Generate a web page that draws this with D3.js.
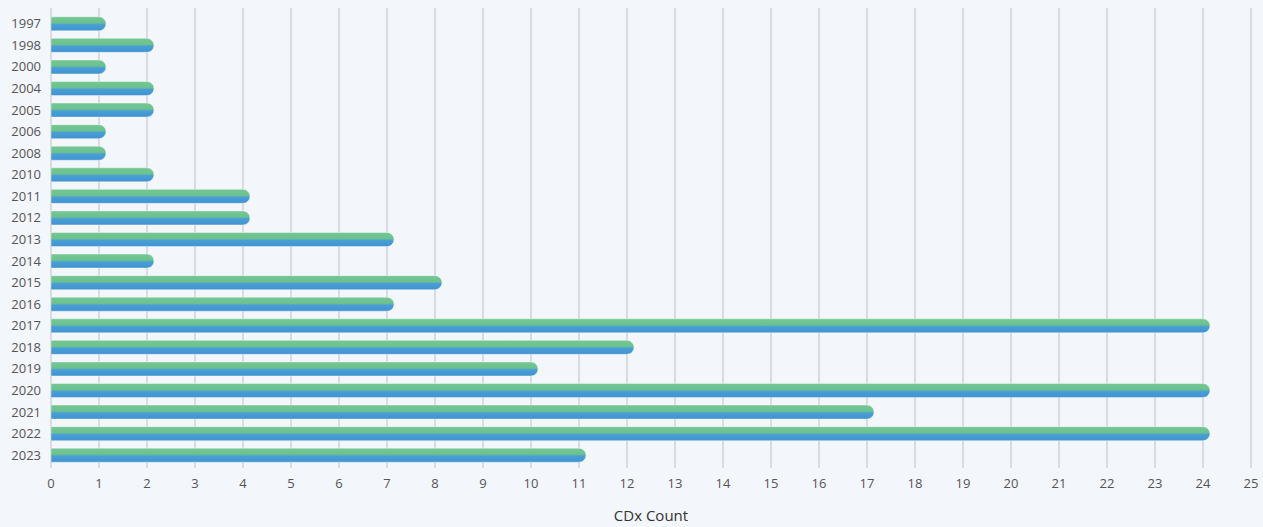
<!DOCTYPE html>
<html>
<head>
<meta charset="utf-8">
<script src="https://cdn.jsdelivr.net/npm/d3@7"></script>
<style>
  body { margin: 0; background: #f3f6fb; }
  svg { display: block; }
</style>
</head>
<body>
<div id="chart"></div>
<script>
// Data
const years = ["1997", "1998", "2000", "2004", "2005", "2006", "2008", "2010", "2011", "2012",
  "2013", "2014", "2015", "2016", "2017", "2018", "2019", "2020", "2021", "2022", "2023"];
const counts = [1, 2, 1, 2, 2, 1, 1, 2, 4, 4, 7, 2, 8, 7, 24, 12, 10, 24, 17, 24, 11];
const xTicks = d3.range(0, 26);
const axisTitle = "CDx Count";

const width = 1263, height = 527;
const margin = {top: 13, right: 12, bottom: 61, left: 51};
const plotW = width - margin.left - margin.right;
const plotH = height - margin.top - margin.bottom;

const svg = d3.select("#chart").append("svg")
  .attr("width", width)
  .attr("height", height);

svg.append("rect")
  .attr("width", width)
  .attr("height", height)
  .attr("fill", "#f3f6fb");

// Gradient for bars (green on top, blue below)
const defs = svg.append("defs");
const grad = defs.append("linearGradient")
  .attr("id", "barGrad")
  .attr("x1", 0).attr("y1", 0).attr("x2", 0).attr("y2", 1);
grad.append("stop").attr("offset", "0%").attr("stop-color", "#74c793");
grad.append("stop").attr("offset", "44%").attr("stop-color", "#6bc18e");
grad.append("stop").attr("offset", "56%").attr("stop-color", "#4a9fd6");
grad.append("stop").attr("offset", "100%").attr("stop-color", "#3f93d1");

const x = d3.scaleLinear().domain([0, 25]).range([0, plotW]);
const y = d3.scaleBand().domain(years).range([0, plotH]).paddingInner(0.4).paddingOuter(0.2);

const g = svg.append("g")
  .attr("transform", `translate(${margin.left},${margin.top})`);

// Vertical gridlines
g.append("g")
  .selectAll("line")
  .data(xTicks)
  .join("line")
  .attr("x1", d => x(d))
  .attr("x2", d => x(d))
  .attr("y1", -5)
  .attr("y2", plotH + 2)
  .attr("stroke", "#c9cdd3")
  .attr("stroke-width", 1.3);

// Bars with rounded right end
const bh = 14;
const r = bh / 2;
function barPath(v, yc) {
  const x0 = x(0), x1 = x(v) + r;
  const top = yc - r, bot = yc + r;
  return `M${x0},${top}H${x1 - r}A${r},${r} 0 0 1 ${x1 - r},${bot}H${x0}Z`;
}

g.append("g")
  .selectAll("path")
  .data(years.map((yr, i) => ({yr, v: counts[i]})))
  .join("path")
  .attr("d", d => barPath(d.v, y(d.yr) + y.bandwidth() / 2))
  .attr("fill", "url(#barGrad)")
  .attr("stroke", "#ffffff")
  .attr("stroke-opacity", 0.5)
  .attr("stroke-width", 0.8);

// Y labels
g.append("g")
  .selectAll("text")
  .data(years)
  .join("text")
  .attr("x", -10)
  .attr("y", d => y(d) + y.bandwidth() / 2)
  .attr("dy", "0.35em")
  .attr("text-anchor", "end")
  .style("font-family", "'Open Sans', sans-serif")
  .style("font-size", "13px")
  .attr("fill", "#555")
  .text(d => d);

// X axis labels
g.append("g")
  .selectAll("text")
  .data(xTicks)
  .join("text")
  .attr("x", d => x(d))
  .attr("y", plotH + 17)
  .attr("dy", "0.35em")
  .attr("text-anchor", "middle")
  .style("font-family", "'Open Sans', sans-serif")
  .style("font-size", "13px")
  .attr("fill", "#555")
  .text(d => d);

// Axis title
svg.append("text")
  .attr("x", margin.left + plotW / 2)
  .attr("y", 516)
  .attr("dy", "0.35em")
  .attr("text-anchor", "middle")
  .style("font-family", "'Open Sans', sans-serif")
  .style("font-size", "15px")
  .attr("fill", "#333")
  .text(axisTitle);
</script>
</body>
</html>
